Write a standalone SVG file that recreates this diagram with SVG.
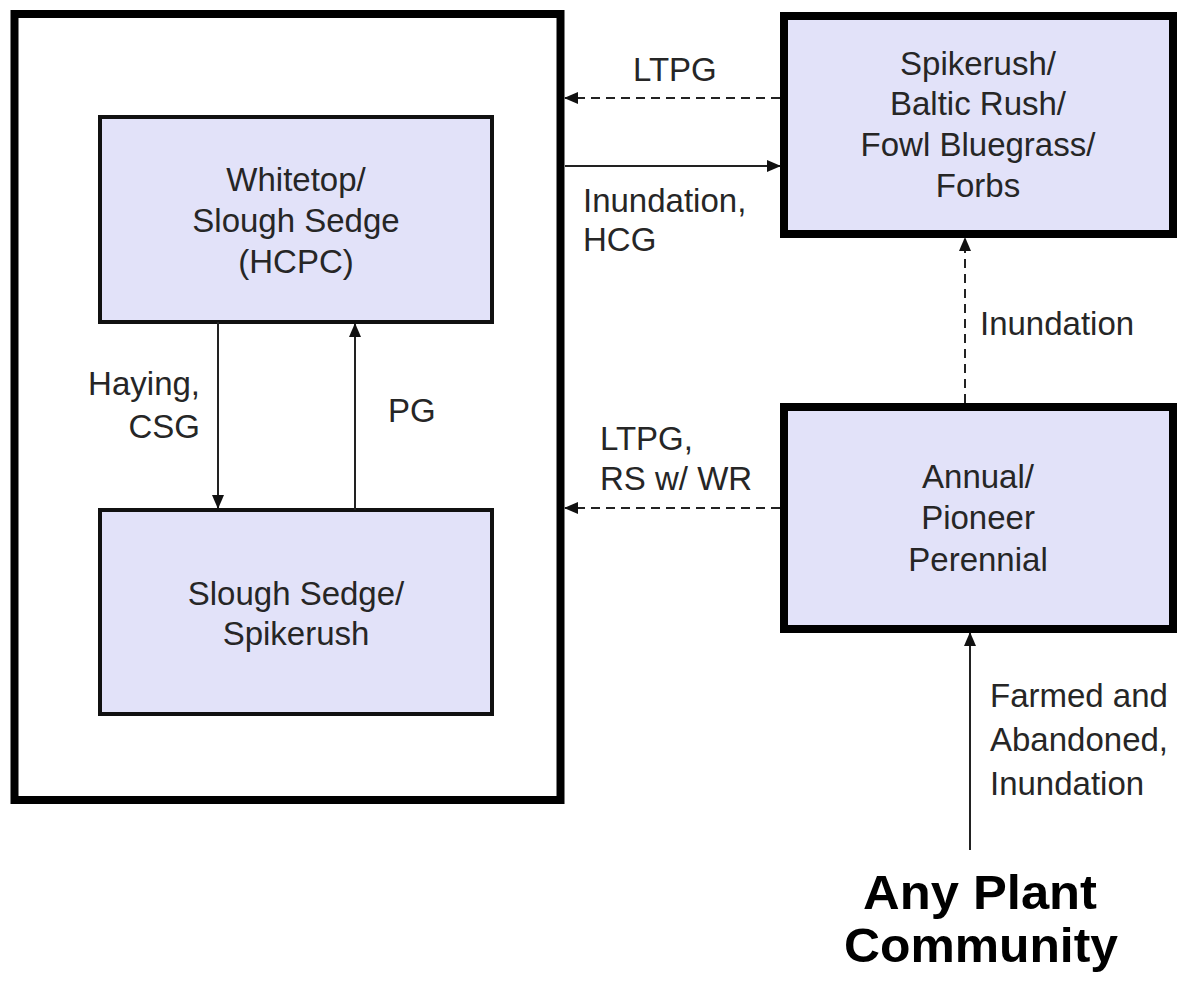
<svg xmlns="http://www.w3.org/2000/svg" width="1179" height="983" viewBox="0 0 1179 983">
<style>
.outer{fill:none;stroke:#000;stroke-width:8}
.thick{fill:#e2e2f9;stroke:#000;stroke-width:8}
.thin{fill:#e2e2f9;stroke:#111;stroke-width:4}
.t{font-family:"Liberation Sans",Arial,sans-serif;font-size:33px;fill:#262626}
.c{text-anchor:middle}
.e{text-anchor:end}
.big{font-family:"Liberation Sans",Arial,sans-serif;font-size:48px;font-weight:bold;fill:#000;text-anchor:middle}
.ln{fill:none;stroke:#222;stroke-width:2}
.dash{stroke-dasharray:9 6}
</style>
<defs>
<marker id="ah" markerUnits="userSpaceOnUse" markerWidth="14" markerHeight="12" refX="13" refY="6" orient="auto">
<path d="M0,0 L14,6 L0,12 Z" fill="#111"/>
</marker>
</defs>
<rect width="1179" height="983" fill="#fff"/>
<g id="outer-group">
<rect class="outer" x="14.5" y="14" width="546" height="786"/>
</g>
<g id="whitetop">
<rect class="thin" x="100" y="117" width="392" height="205"/>
<text class="t c" x="296" y="191">Whitetop/</text>
<text class="t c" x="296" y="232">Slough Sedge</text>
<text class="t c" x="296" y="273">(HCPC)</text>
</g>
<g id="slough">
<rect class="thin" x="100" y="510" width="392" height="204"/>
<text class="t c" x="296" y="605">Slough Sedge/</text>
<text class="t c" x="296" y="645">Spikerush</text>
</g>
<g id="spikerush">
<rect class="thick" x="784" y="16" width="389" height="218"/>
<text class="t c" x="978" y="75">Spikerush/</text>
<text class="t c" x="978" y="115">Baltic Rush/</text>
<text class="t c" x="978" y="156">Fowl Bluegrass/</text>
<text class="t c" x="978" y="197">Forbs</text>
</g>
<g id="annual">
<rect class="thick" x="784" y="407" width="389" height="222"/>
<text class="t c" x="978" y="488">Annual/</text>
<text class="t c" x="978" y="529">Pioneer</text>
<text class="t c" x="978" y="571">Perennial</text>
</g>
<g id="any-plant">
<text class="big" x="980" y="909" textLength="234" lengthAdjust="spacingAndGlyphs">Any Plant</text>
<text class="big" x="981" y="962" textLength="274" lengthAdjust="spacingAndGlyphs">Community</text>
</g>
<g id="connectors">
<line class="ln dash" x1="780" y1="98" x2="565" y2="98" marker-end="url(#ah)"/>
<line class="ln" x1="565" y1="166" x2="780" y2="166" marker-end="url(#ah)"/>
<line class="ln" x1="218" y1="322" x2="218" y2="508" marker-end="url(#ah)"/>
<line class="ln" x1="355" y1="510" x2="355" y2="324" marker-end="url(#ah)"/>
<line class="ln dash" x1="965" y1="403" x2="965" y2="238" marker-end="url(#ah)"/>
<line class="ln dash" x1="780" y1="508" x2="565" y2="508" marker-end="url(#ah)"/>
<line class="ln" x1="970" y1="850" x2="970" y2="633" marker-end="url(#ah)"/>
</g>
<g id="labels">
<text class="t" x="633" y="81">LTPG</text>
<text class="t" x="583" y="212">Inundation,</text>
<text class="t" x="583" y="251">HCG</text>
<text class="t e" x="200" y="395">Haying,</text>
<text class="t e" x="200" y="438">CSG</text>
<text class="t" x="388" y="422">PG</text>
<text class="t" x="980" y="335">Inundation</text>
<text class="t" x="600" y="450">LTPG,</text>
<text class="t" x="600" y="490">RS w/ WR</text>
<text class="t" x="990" y="707">Farmed and</text>
<text class="t" x="990" y="751">Abandoned,</text>
<text class="t" x="990" y="795">Inundation</text>
</g>
</svg>
